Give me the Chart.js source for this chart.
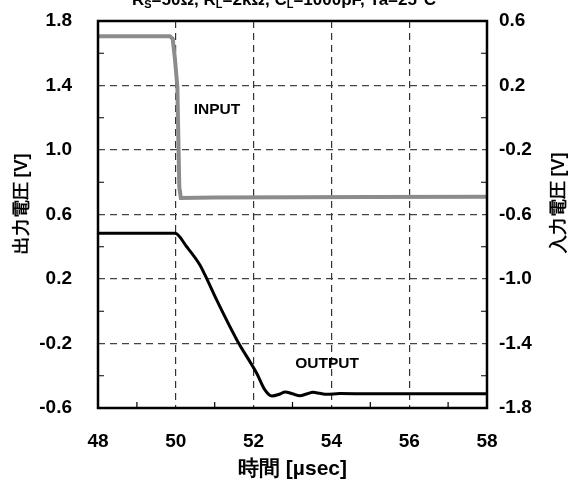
<!DOCTYPE html>
<html>
<head>
<meta charset="utf-8">
<script src="https://cdn.jsdelivr.net/npm/chart.js@4"></script>
<style>
html,body{margin:0;padding:0;background:#fff;}
#wrap{position:relative;width:572px;height:486px;}
</style>
</head>
<body>
<div id="wrap"><canvas id="c" width="572" height="486"></canvas></div>
<script>
// ---- data ----
const inputTime  = [48.0, 49.85, 49.92, 49.98, 50.04, 50.09, 50.13, 51.0, 53.0, 55.0, 58.0];
const inputVolt  = [0.505, 0.505, 0.49, 0.36, 0.19, -0.43, -0.497, -0.495, -0.493, -0.492, -0.49];

const outputTime = [47.97, 49.0, 49.98, 50.28, 50.62, 50.75, 51.05, 51.57, 52.08, 52.29, 52.47, 52.68, 52.81, 53.0, 53.19, 53.36, 53.53, 53.7, 53.88, 54.22, 55.0, 56.0, 57.0, 58.0];
const outputVolt = [0.483, 0.483, 0.483, 0.40, 0.287, 0.225, 0.07, -0.178, -0.385, -0.488, -0.526, -0.513, -0.500, -0.512, -0.524, -0.513, -0.503, -0.509, -0.515, -0.510, -0.512, -0.512, -0.511, -0.511];

const xTicks      = [48, 50, 52, 54, 56, 58];
const yLeftTicks  = [1.8, 1.4, 1.0, 0.6, 0.2, -0.2, -0.6];
const yRightTicks = [0.6, 0.2, -0.2, -0.6, -1.0, -1.4, -1.8];

const xTitle      = '時間 [µsec]';
const yLeftTitle  = '出力電圧 [V]';
const yRightTitle = '入力電圧 [V]';
const labelInput  = 'INPUT';
const labelOutput = 'OUTPUT';
// title segments: [text, isSubscript]
const titleParts = [['R',0],['S',1],['=50Ω, R',0],['L',1],['=2kΩ, C',0],['L',1],['=1000pF, Ta=25°C',0]];

const FONT = '"Liberation Sans", Arial, sans-serif';
const TICKFONT = { family: FONT, size: 19, weight: 'bold' };

const pts = (xs, ys) => xs.map((x, i) => ({x, y: ys[i]}));

const decor = {
  id: 'decor',
  afterDraw(chart) {
    const ctx = chart.ctx, a = chart.chartArea;
    const sx = chart.scales.x, sy = chart.scales.y;
    ctx.save();
    // minor inward ticks
    ctx.strokeStyle = '#000'; ctx.lineWidth = 1.2;
    ctx.beginPath();
    for (let i = 0; i < xTicks.length - 1; i++) {
      const v = (xTicks[i] + xTicks[i+1]) / 2, px = sx.getPixelForValue(v);
      ctx.moveTo(px, a.bottom); ctx.lineTo(px, a.bottom - 6);
    }
    for (let i = 0; i < yLeftTicks.length - 1; i++) {
      const v = (yLeftTicks[i] + yLeftTicks[i+1]) / 2, py = sy.getPixelForValue(v);
      ctx.moveTo(a.left, py); ctx.lineTo(a.left + 6, py);
      ctx.moveTo(a.right, py); ctx.lineTo(a.right - 6, py);
    }
    ctx.stroke();
    // frame
    ctx.lineWidth = 2.5;
    ctx.strokeRect(a.left, a.top, a.right - a.left, a.bottom - a.top);
    // annotations
    ctx.fillStyle = '#000';
    ctx.font = 'bold 15.5px ' + FONT;
    ctx.textAlign = 'center'; ctx.textBaseline = 'middle';
    ctx.fillText(labelInput, sx.getPixelForValue(51.06), sy.getPixelForValue(1.25));
    ctx.fillText(labelOutput, sx.getPixelForValue(53.89), sy.getPixelForValue(-0.327));
    // axis titles
    ctx.font = 'bold 21px ' + FONT;
    ctx.fillText(xTitle, (a.left + a.right) / 2, 469);
    ctx.font = 'bold 18px ' + FONT;
    ctx.save(); ctx.translate(22, 204); ctx.rotate(-Math.PI/2); ctx.fillText(yLeftTitle, 0, 0); ctx.restore();
    ctx.save(); ctx.translate(559, 203); ctx.rotate(-Math.PI/2); ctx.fillText(yRightTitle, 0, 0); ctx.restore();
    // top title (partly cut at the top edge)
    const big = 'bold 17px ' + FONT, small = 'bold 11px ' + FONT;
    let w = 0;
    titleParts.forEach(([t, s]) => { ctx.font = s ? small : big; w += ctx.measureText(t).width; });
    let x = 284 - w / 2;
    ctx.textAlign = 'left'; ctx.textBaseline = 'alphabetic';
    titleParts.forEach(([t, s]) => {
      ctx.font = s ? small : big;
      ctx.fillText(t, x, s ? 8 : 5);
      x += ctx.measureText(t).width;
    });
    ctx.restore();
  }
};

const noVPad = (w) => s => { s.width = w; s.paddingTop = 0; s.paddingBottom = 0; };

new Chart(document.getElementById('c'), {
  type: 'line',
  data: {
    datasets: [
      { label: 'INPUT', data: pts(inputTime, inputVolt), yAxisID: 'yR',
        borderColor: '#8c8c8c', borderWidth: 4, pointRadius: 0, tension: 0, fill: false },
      { label: 'OUTPUT', data: pts(outputTime, outputVolt), yAxisID: 'y',
        borderColor: '#000', borderWidth: 3, pointRadius: 0, cubicInterpolationMode: 'monotone', fill: false }
    ]
  },
  options: {
    responsive: false, animation: false, devicePixelRatio: 1,
    layout: { padding: { top: 21, left: 0, right: 0, bottom: 0 } },
    plugins: { legend: { display: false }, tooltip: { enabled: false }, title: { display: false } },
    scales: {
      x: {
        type: 'linear', min: 48, max: 58,
        afterBuildTicks: s => { s.ticks = xTicks.map(v => ({value: v})); },
        afterFit: s => { s.height = 78; s.paddingLeft = 0; s.paddingRight = 0; },
        ticks: { color: '#000', font: TICKFONT, padding: 22, maxRotation: 0,
                 callback: v => String(v) },
        grid: { drawTicks: false, lineWidth: 1.2,
                color: c => (c.tick && (c.tick.value === 48 || c.tick.value === 58)) ? 'rgba(0,0,0,0)' : '#333' },
        border: { display: false, dash: [7, 5] }
      },
      y: {
        type: 'linear', position: 'left', min: -0.6, max: 1.8,
        afterBuildTicks: s => { s.ticks = yLeftTicks.map(v => ({value: v})); },
        afterFit: noVPad(98),
        ticks: { color: '#000', font: TICKFONT, padding: 26,
                 callback: v => Number(v).toFixed(1) },
        grid: { drawTicks: false, lineWidth: 1.2,
                color: c => (c.tick && (Math.abs(c.tick.value - 1.8) < 1e-9 || Math.abs(c.tick.value + 0.6) < 1e-9)) ? 'rgba(0,0,0,0)' : '#444' },
        border: { display: false, dash: [7, 5] }
      },
      yR: {
        type: 'linear', position: 'right', min: -1.8, max: 0.6,
        afterBuildTicks: s => { s.ticks = yRightTicks.map(v => ({value: v})); },
        afterFit: noVPad(85),
        ticks: { color: '#000', font: TICKFONT, padding: 12,
                 callback: v => Number(v).toFixed(1) },
        grid: { display: false, drawTicks: false },
        border: { display: false }
      }
    }
  },
  plugins: [decor]
});
</script>
</body>
</html>
